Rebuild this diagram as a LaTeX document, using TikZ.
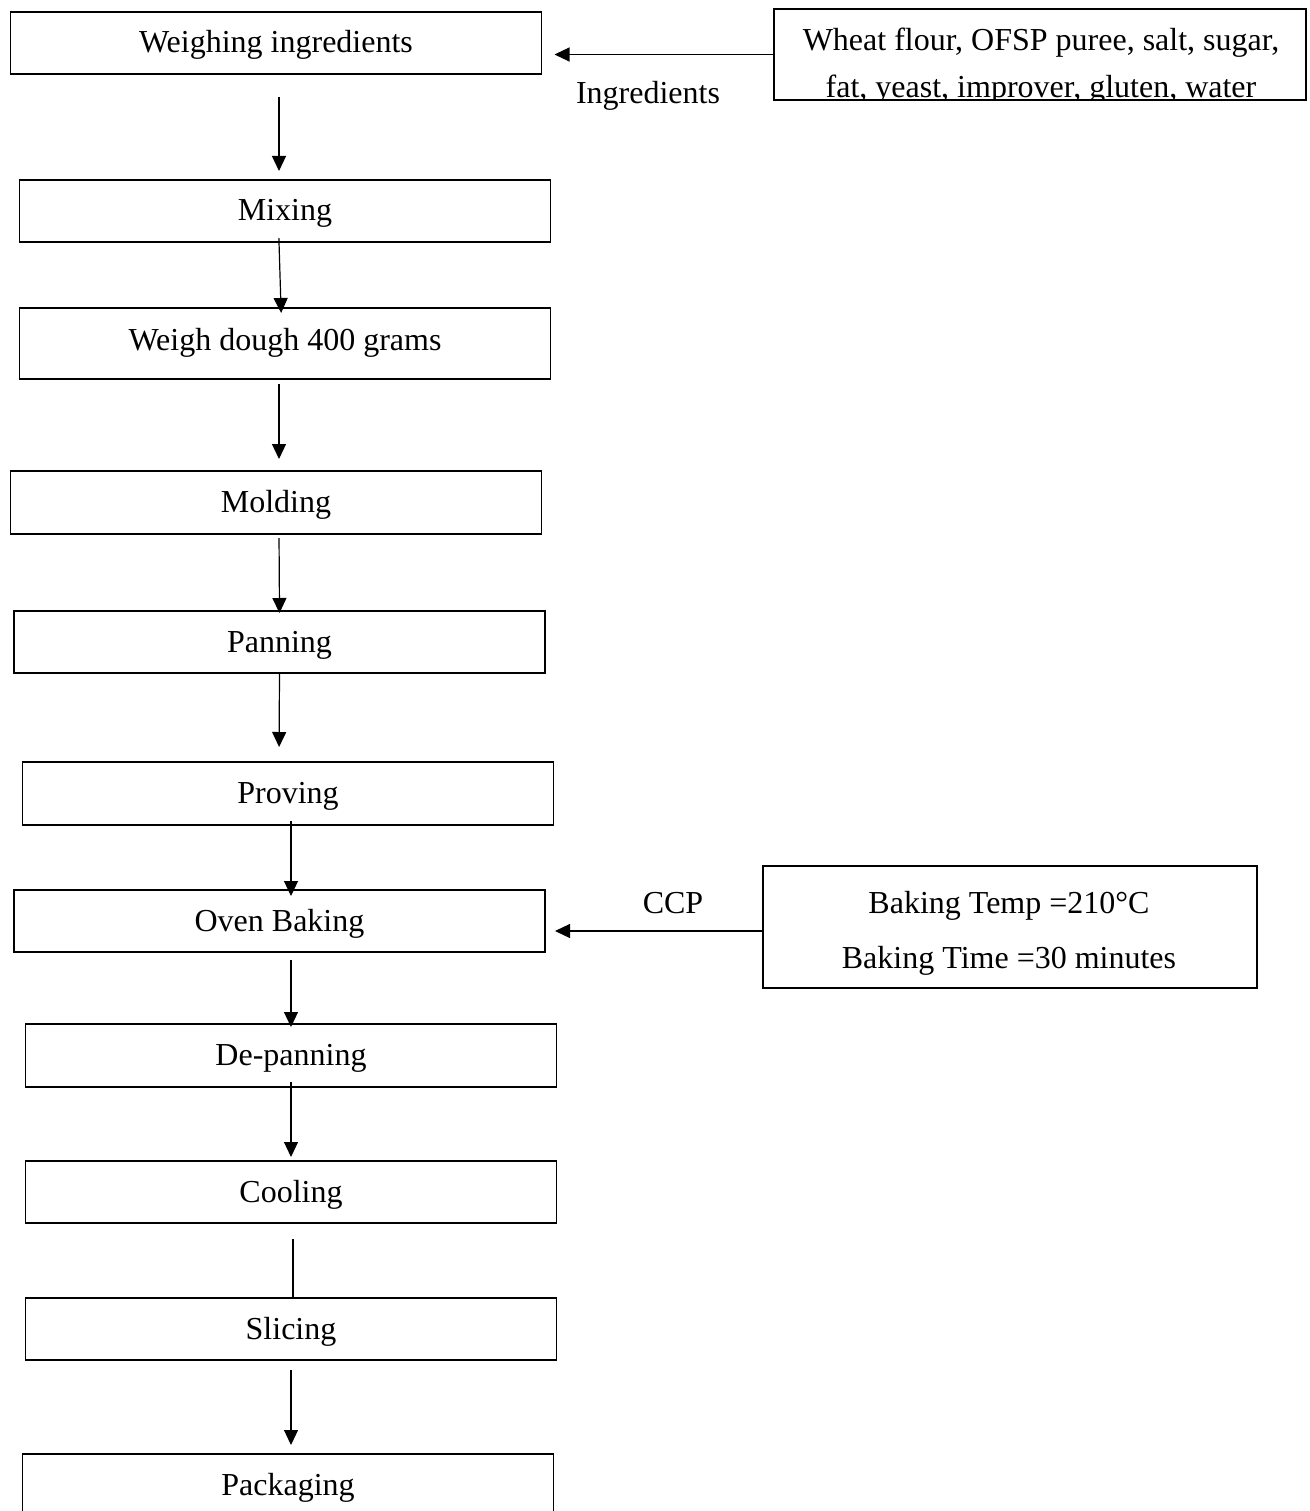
\documentclass[tikz,border=0pt]{standalone}
\usepackage{fontspec}
\setmainfont{Liberation Serif}
\usetikzlibrary{arrows.meta}
\begin{document}
\begin{tikzpicture}[x=1pt,y=-1pt,line width=1.2pt,>={Triangle[length=15pt,width=14pt]},font={\fontsize{32}{38}\selectfont},stepbox/.style={rectangle, draw=black, fill=white, minimum width=531pt, minimum height=62pt, inner sep=0pt, outer sep=0pt, text height=24pt, text depth=4pt},infobox/.style={rectangle, draw=black, fill=white, inner sep=0pt, outer sep=0pt},boxtext/.style={align=center, inner sep=0pt},]
            \useasboundingbox (0,0) rectangle (1309,1511);
            \clip (0,0) rectangle (1309,1511);
            \node[stepbox] (weigh) at (276,43) {Weighing ingredients};
            \node[stepbox] (mix) at (285,211) {Mixing};
            \node[stepbox, minimum height=71pt, text height=20pt, text depth=7pt] (dough) at (285,343.5) {Weigh dough 400 grams};
            \node[stepbox, minimum height=63pt] (mold) at (276,502.5) {Molding};
            \node[stepbox] (pan) at (279.5,642) {Panning};
            \node[stepbox, minimum height=63pt] (prove) at (288,793.5) {Proving};
            \node[stepbox] (oven) at (279.5,921) {Oven Baking};
            \node[stepbox, minimum height=63pt] (depan) at (291,1055.5) {De-panning};
            \node[stepbox] (cool) at (291,1192) {Cooling};
            \node[stepbox] (slice) at (291,1329) {Slicing};
            \node[stepbox] (pack) at (288,1485) {Packaging};
            \node[infobox, minimum width=532pt, minimum height=91pt] (ingr) at (1040,54.5) {};
            \begin{scope}
            \clip (773.4,8.4) rectangle (1306.6,100.6);
            \node[boxtext, font={\fontsize{32}{46.5}\selectfont}] (ingrtext) at (1041,66) {Wheat flour, OFSP puree, salt, sugar,\\fat, yeast, improver, gluten, water};
            \end{scope}
            \node[infobox, minimum width=494pt, minimum height=122pt] (bake) at (1010,927) {};
            \node[boxtext, font={\fontsize{32}{55}\selectfont}] (baketext) at (1009,933) {Baking Temp =210°C\\Baking Time =30 minutes};
            \node (inglabel) at (648,95.5) {Ingredients};
            \node (ccp) at (673,903) {CCP};
            \draw[->, shorten >=13pt] (ingr.west) -- (ingr.west -| weigh.east);
            \draw[->, shorten >=10pt] ([yshift=-4pt]bake.west) -- ([yshift=-4pt]bake.west -| oven.east);
            \draw[->, shorten <=23pt, shorten >=9pt] ([xshift=3pt]weigh.south) -- ([xshift=-6pt]mix.north);
            \draw[->, shorten <=-4pt, shorten >=-5pt] ([xshift=-6pt]mix.south) -- ([xshift=-4pt]dough.north);
            \draw[->, shorten <=5pt, shorten >=12pt] ([xshift=-6pt]dough.south) -- ([xshift=3pt]mold.north);
            \draw[->, shorten <=4pt, shorten >=-2pt] ([xshift=3pt]mold.south) -- (pan.north);
            \draw[->, shorten >=15pt] (pan.south) -- ([xshift=-9pt]prove.north);
            \draw[->, shorten <=-4pt, shorten >=-6pt] ([xshift=3pt]prove.south) -- ([xshift=11.5pt]oven.north);
            \draw[->, shorten <=8pt, shorten >=-3pt] ([xshift=11.5pt]oven.south) -- (depan.north);
            \draw[->, shorten <=-5pt, shorten >=4pt] (depan.south) -- (cool.north);
            \draw[shorten <=16pt] ([xshift=2pt]cool.south) -- ([xshift=2pt]slice.north);
            \draw[->, shorten <=10pt, shorten >=9pt] (slice.south) -- ([xshift=3pt]pack.north);
        \end{tikzpicture}
\end{document}
